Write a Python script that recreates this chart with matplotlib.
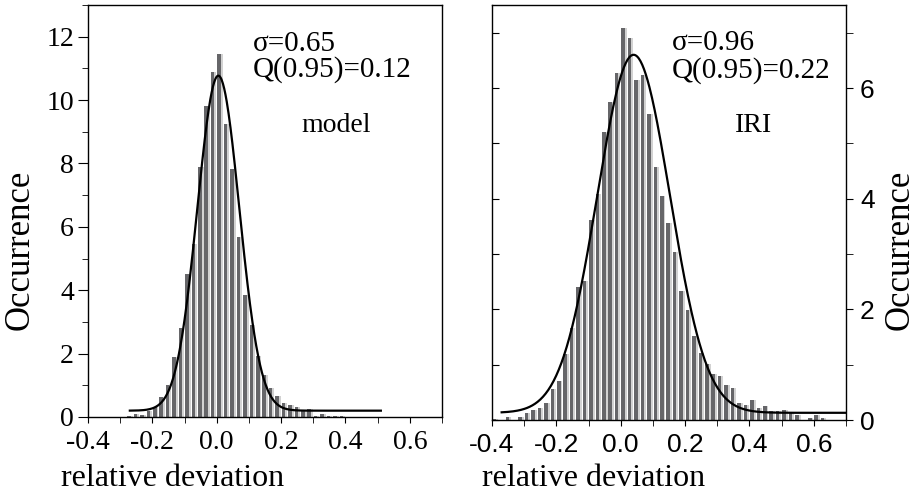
import numpy as np
import matplotlib.pyplot as plt
from matplotlib.ticker import MultipleLocator

# histogram bins (width 0.02), first bin centre and heights
BIN = 0.02
model_first = -0.27
model_counts = [0.03, 0.10, 0.05, 0.20, 0.33, 0.64, 1.00, 1.90, 2.80, 4.50,
                5.45, 7.90, 9.80, 10.90, 11.45, 9.24, 7.82, 5.69, 3.86, 2.91,
                1.91, 1.33, 0.91, 0.66, 0.45, 0.38, 0.31, 0.20, 0.25, 0.04,
                0.10, 0.03, 0.02, 0.02]

iri_first = -0.39
iri_counts = [0.02, 0.00, 0.05, 0.00, 0.05, 0.12, 0.18, 0.22, 0.30, 0.56,
              0.71, 1.20, 1.66, 2.41, 2.52, 3.62, 4.09, 5.21, 5.74, 6.27,
              7.08, 6.91, 6.14, 6.23, 5.53, 4.58, 4.04, 3.56, 3.04, 2.34,
              1.99, 1.51, 1.21, 1.02, 0.83, 0.80, 0.63, 0.57, 0.31, 0.28,
              0.37, 0.22, 0.26, 0.17, 0.16, 0.18, 0.12, 0.09, 0.00, 0.04,
              0.09, 0.04]

# gaussian fit parameters (baseline, amplitude, centre, width, x-range)
model_fit = dict(y0=0.20, a=10.57, xc=0.005, w=0.065, x0=-0.27, x1=0.51)
iri_fit = dict(y0=0.13, a=6.47, xc=0.04, w=0.113, x0=-0.37, x1=0.72)

model_text = ["\u03c3=0.65", "Q(0.95)=0.12"]
iri_text = ["\u03c3=0.96", "Q(0.95)=0.22"]

SERIF = "Liberation Serif"
SANS = "Liberation Sans"
DARK = "#666669"
LIGHT = "#d2d2d2"

W, H = 918, 495
fig = plt.figure(figsize=(W / 100, H / 100), dpi=100)


def px_axes(x0, y0, x1, y1):
    return fig.add_axes([x0 / W, 1 - y1 / H, (x1 - x0) / W, (y1 - y0) / H])


def draw_hist(ax, first, counts, fit):
    centers = first + BIN * np.arange(len(counts))
    ax.bar(centers + 0.0005, counts, width=0.017, color=LIGHT, linewidth=0, zorder=1)
    ax.bar(centers - 0.0025, counts, width=0.011, color=DARK, linewidth=0, zorder=2)
    x = np.linspace(fit["x0"], fit["x1"], 400)
    y = fit["y0"] + fit["a"] * np.exp(-0.5 * ((x - fit["xc"]) / fit["w"]) ** 2)
    ax.plot(x, y, color="black", lw=1.6, zorder=3)
    ax.set_xlim(-0.4, 0.7)
    ax.xaxis.set_major_locator(MultipleLocator(0.2))
    ax.xaxis.set_minor_locator(MultipleLocator(0.1))
    for s in ax.spines.values():
        s.set_linewidth(1.0)


# ---- left panel: model
ax1 = px_axes(88, 5, 442, 417)
draw_hist(ax1, model_first, model_counts, model_fit)
ax1.set_ylim(0, 13)
ax1.yaxis.set_major_locator(MultipleLocator(2))
ax1.yaxis.set_minor_locator(MultipleLocator(1))
ax1.tick_params(axis="both", which="both", direction="out", top=False, right=False)
ax1.tick_params(axis="y", which="major", length=7, pad=3)
ax1.tick_params(axis="y", which="minor", length=4)
ax1.tick_params(axis="x", which="both", length=4.5, pad=5)
ax1.set_xticklabels([f"{v:.1f}" for v in ax1.get_xticks()])
for lab in ax1.get_xticklabels() + ax1.get_yticklabels():
    lab.set_fontfamily(SERIF)
    lab.set_fontsize(20)

# ---- right panel: IRI
ax2 = px_axes(492, 5, 846, 420)
draw_hist(ax2, iri_first, iri_counts, iri_fit)
ax2.set_ylim(0, 7.5)
ax2.yaxis.set_major_locator(MultipleLocator(2))
ax2.yaxis.set_minor_locator(MultipleLocator(1))
ax2.yaxis.tick_right()
ax2.tick_params(axis="y", which="both", left=False, right=True, direction="out",
                length=5, labelleft=False, labelright=True, pad=5)
ax2.tick_params(axis="x", which="both", direction="out", length=4.5, pad=5, top=False)
ax2.set_xticklabels([f"{v:.1f}" for v in ax2.get_xticks()])
for lab in ax2.get_xticklabels() + ax2.get_yticklabels():
    lab.set_fontfamily(SANS)
    lab.set_fontsize(19)

# inward ticks on the left spine of the right panel (separate overlay axes)
ax2l = px_axes(492, 5, 846, 420)
ax2l.set_ylim(0, 7.5)
ax2l.patch.set_visible(False)
for s in ax2l.spines.values():
    s.set_visible(False)
ax2l.set_xticks([])
ax2l.yaxis.set_major_locator(MultipleLocator(1))
ax2l.tick_params(axis="y", which="both", left=True, right=False, direction="in",
                 length=5, labelleft=False, labelright=False)

# ---- texts (positions in figure pixels)
def ftext(x, y, s, size, **kw):
    fig.text(x / W, 1 - y / H, s, fontsize=size, fontfamily=SERIF, **kw)


ftext(253, 44, model_text[0], 21, ha="left", va="center")
ftext(253, 70, model_text[1], 21, ha="left", va="center")
ftext(336, 125, "model", 20, ha="center", va="center")
ftext(672, 43, iri_text[0], 21, ha="left", va="center")
ftext(672, 71, iri_text[1], 21, ha="left", va="center")
ftext(754, 126, "IRI", 20, ha="center", va="center")

ftext(173, 478, "relative deviation", 23, ha="center", va="center")
ftext(594, 478, "relative deviation", 23, ha="center", va="center")
ftext(20, 250, "Occurrence", 25, ha="center", va="center", rotation=90)
ftext(900, 250, "Occurrence", 25, ha="center", va="center", rotation=90)

fig.savefig("out.png", dpi=100)
